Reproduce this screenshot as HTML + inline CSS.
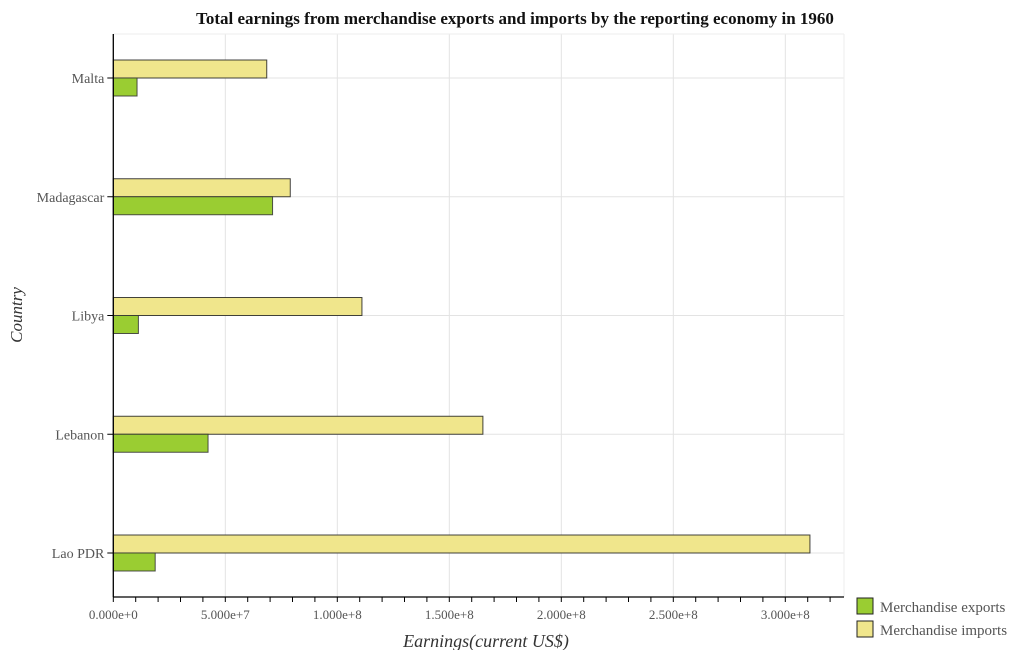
<!DOCTYPE html>
<html><head><meta charset="utf-8"><style>
body{margin:0;background:#fff;}
svg text{font-family:"Liberation Serif",serif;}
</style></head><body>
<svg width="1030" height="650" xmlns="http://www.w3.org/2000/svg">
<text x="515" y="24" text-anchor="middle" font-size="17" font-weight="bold" fill="#111">Total earnings from merchandise exports and imports by the reporting economy in 1960</text>
<g id="plot"></g>
<text x="486" y="647" text-anchor="middle" font-size="18" font-style="italic" fill="#333">Earnings(current US$)</text>
<text transform="translate(22,315) rotate(-90)" text-anchor="middle" font-size="17" font-style="italic" fill="#333">Country</text>
<g>
<rect x="857" y="598" width="16" height="16" fill="#9acd32" stroke="#222"/>
<text x="880" y="612" font-size="15" fill="#555">Merchandise exports</text>
<rect x="857" y="621" width="16" height="16" fill="#f0e68c" stroke="#222"/>
<text x="880" y="635" font-size="15" fill="#555">Merchandise imports</text>
</g>
</svg>
<script>
const categories=["Malta","Madagascar","Libya","Lebanon","Lao PDR"];
const exportsVals=[1.06e7,7.11e7,1.12e7,4.23e7,1.87e7];
const importsVals=[6.85e7,7.9e7,1.11e8,1.65e8,3.11e8];
const tickVals=[0,5e7,1e8,1.5e8,2e8,2.5e8,3e8];
const tickLabels=["0.000e+0","5.000e+7","1.000e+8","1.500e+8","2.000e+8","2.500e+8","3.000e+8"];
const NS="http://www.w3.org/2000/svg";
const L=113.3,R=844,T=34,B=597;
const xs=v=>L+v/1e8*224;
const step=(553-78)/(categories.length-1);
const yc=i=>78+step*i;
const g=document.getElementById('plot');
function mk(t,a){const e=document.createElementNS(NS,t);for(const k in a)e.setAttribute(k,a[k]);g.appendChild(e);return e;}
tickVals.forEach((v,i)=>{
 const l=mk('line',{x1:xs(v),x2:xs(v),y1:T,y2:B,stroke:'#e3e3e3'});
 
 
});
categories.forEach((c,i)=>{
 const l=mk('line',{x1:L,x2:R,y1:yc(i),y2:yc(i),stroke:'#e3e3e3'});
 
 
});
mk('line',{x1:L,x2:R,y1:T,y2:T,stroke:'#eee'});
mk('line',{x1:R,x2:R,y1:T,y2:B,stroke:'#eee'});
const bh=18;
categories.forEach((c,i)=>{
 const r1=mk('rect',{x:L,y:yc(i)-bh,width:xs(importsVals[i])-L,height:bh,fill:'#f0e68c',stroke:'#222','stroke-opacity':0.85});
 
 
 const r2=mk('rect',{x:L,y:yc(i),width:xs(exportsVals[i])-L,height:bh,fill:'#9acd32',stroke:'#333','stroke-opacity':0.85});
 
 
 const tk=mk('line',{x1:L-6,x2:L,y1:yc(i),y2:yc(i),stroke:'#000'});
 
 
 const t=mk('text',{x:L-9,y:yc(i)+5,'text-anchor':'end','font-size':14,fill:'#555'});
 t.textContent=c;
 
 
});
mk('line',{x1:L,x2:L,y1:T,y2:B,stroke:'#000','stroke-width':1.3});
mk('line',{x1:L,x2:R,y1:B,y2:B,stroke:'#000','stroke-width':1.3});
for(let v=0;v<=3.2e8;v+=1e7){
 const tk=mk('line',{x1:xs(v),x2:xs(v),y1:B,y2:B+5,stroke:'#000'});
 
 
}
tickVals.forEach((v,i)=>{
 const t=mk('text',{x:xs(v),y:B+22,'text-anchor':'middle','font-size':13,fill:'#555'});
 t.textContent=tickLabels[i];
 
 
});
</script>
</body></html>
